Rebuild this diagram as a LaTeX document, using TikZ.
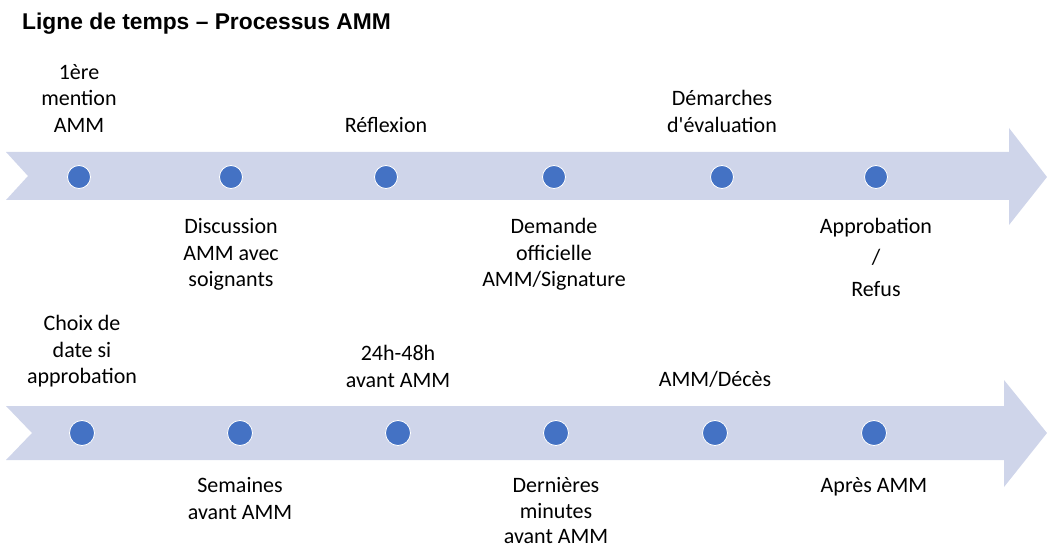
\documentclass[tikz,border=0pt]{standalone}
\usepackage{fontspec}
\setmainfont{Carlito}
\newfontfamily\titlefont{Liberation Sans}
\usepackage{tikz}
\usetikzlibrary{positioning}
\definecolor{bandcol}{HTML}{CFD5EA}
\definecolor{dotcol}{HTML}{4472C4}

\begin{document}
\begin{tikzpicture}[x=1pt,y=1pt,
        dot/.style={circle, fill=dotcol, draw=white, line width=0.8pt, minimum size=#1, inner sep=0pt, outer sep=0pt},
        dot/.default=23pt,
        lbl/.style={align=center, inner sep=0pt, font=\fontsize{22}{26.5}\selectfont}]
    \useasboundingbox (0,0) rectangle (1047,-548);
    \node[anchor=base west, inner sep=0pt, font=\titlefont\bfseries\fontsize{22.8}{27}\selectfont] (T) at (22,-30) {Ligne de temps – Processus AMM};

    % first timeline
    \fill[bandcol] (6,-152) -- (1009,-152) -- (1009,-128) -- (1047,-177) -- (1009,-225)
        -- (1009,-200) -- (6,-200) -- (28,-176) -- cycle;
    \node[dot] (a1) at (79,-177) {};
    \node[dot] (a2) at (231,-177) {};
    \node[dot] (a3) at (386,-177) {};
    \node[dot] (a4) at (554,-177) {};
    \node[dot] (a5) at (722,-177) {};
    \node[dot] (a6) at (876,-177) {};
    \node[lbl, above=33pt of a1] (A1) {1ère\\mention\\AMM};
    \node[lbl, below=30pt of a2] (A2) {Discussion\\AMM avec\\soignants};
    \node[lbl, above=33pt of a3] (A3) {Réflexion};
    \node[lbl, below=30pt of a4] (A4) {Demande\\officielle\\AMM/Signature};
    \node[lbl, above=33pt of a5] (A5) {Démarches\\d\textquotesingle évaluation};
    \node[lbl, below=30pt of a6] (A6) {Approbation\\[4pt]/\\[6pt]Refus};

    % second timeline
    \fill[bandcol] (6,-406) -- (1004,-406) -- (1004,-380) -- (1047,-433) -- (1004,-487)
        -- (1004,-460) -- (6,-460) -- (32,-433) -- cycle;
    \node[dot=25pt] (b1) at (82,-433) {};
    \node[dot=25pt] (b2) at (240,-433) {};
    \node[dot=25pt] (b3) at (398,-433) {};
    \node[dot=25pt] (b4) at (556,-433) {};
    \node[dot=25pt] (b5) at (715,-433) {};
    \node[dot=25pt] (b6) at (874,-433) {};
    \node[lbl, above=33pt of b1] (B1) {Choix de\\date si\\approbation};
    \node[lbl, below=32pt of b2] (B2) {Semaines\\avant AMM};
    \node[lbl, above=33pt of b3] (B3) {24h-48h\\avant AMM};
    \node[lbl, below=32pt of b4, font=\fontsize{22}{25.5}\selectfont] (B4) {Dernières\\minutes\\avant AMM};
    \node[lbl, above=33pt of b5] (B5) {AMM/Décès};
    \node[lbl, below=32pt of b6] (B6) {Après AMM};
\end{tikzpicture}
\end{document}
